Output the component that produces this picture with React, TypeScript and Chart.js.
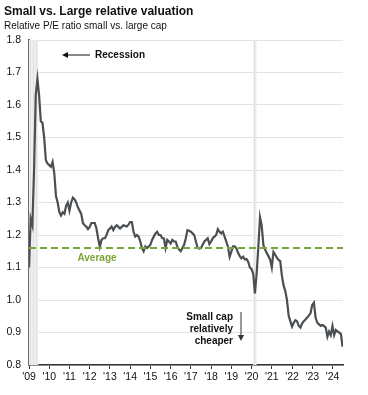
import React, { useEffect, useRef } from "react";
import { Chart, registerables } from "chart.js";

Chart.register(...registerables);

// Monthly relative P/E (small vs. large cap), starting January 2009
const startYear = 2009;
const relativePE = [
  1.10, 1.25, 1.23, 1.40, 1.63, 1.68, 1.63, 1.55, 1.545, 1.50, 1.43, 1.42,
  1.415, 1.41, 1.425, 1.39, 1.32, 1.30, 1.27, 1.26, 1.27, 1.265, 1.29, 1.30,
  1.275, 1.30, 1.315, 1.31, 1.30, 1.285, 1.275, 1.265, 1.236, 1.23, 1.226, 1.218,
  1.225, 1.237, 1.237, 1.237, 1.22, 1.19, 1.164, 1.185, 1.19, 1.19, 1.20, 1.215,
  1.22, 1.226, 1.215, 1.225, 1.23, 1.225, 1.22, 1.225, 1.23, 1.228, 1.226, 1.232,
  1.24, 1.24, 1.21, 1.195, 1.20, 1.195, 1.18, 1.16, 1.15, 1.165, 1.16, 1.164,
  1.17, 1.185, 1.195, 1.205, 1.21, 1.20, 1.20, 1.19, 1.19, 1.16, 1.185, 1.18,
  1.174, 1.185, 1.18, 1.18, 1.164, 1.155, 1.15, 1.16, 1.17, 1.19, 1.215, 1.213,
  1.21, 1.205, 1.20, 1.18, 1.16, 1.158, 1.16, 1.17, 1.18, 1.185, 1.19, 1.172,
  1.18, 1.19, 1.195, 1.20, 1.218, 1.21, 1.205, 1.21, 1.195, 1.18, 1.164, 1.133,
  1.149, 1.165, 1.165, 1.159, 1.145, 1.135, 1.128, 1.133, 1.125, 1.126, 1.118, 1.10,
  1.095, 1.08, 1.02, 1.08, 1.16, 1.255, 1.23, 1.17, 1.155, 1.145, 1.135, 1.125,
  1.10, 1.148, 1.14, 1.13, 1.123, 1.12, 1.075, 1.045, 1.028, 1.00, 0.952, 0.935,
  0.918, 0.93, 0.938, 0.935, 0.92, 0.915, 0.928, 0.935, 0.94, 0.946, 0.952, 0.96,
  0.985, 0.992, 0.945, 0.93, 0.925, 0.92, 0.923, 0.92, 0.915, 0.887, 0.903, 0.892,
  0.92, 0.892, 0.908, 0.903, 0.90, 0.895, 0.856,
];

const averageValue = 1.16;
const tickYears = [2009, 2010, 2011, 2012, 2013, 2014, 2015, 2016, 2017, 2018, 2019, 2020, 2021, 2022, 2023, 2024];
const xMin = 2009;
const xMax = 2024.52;
const recessionStarts = [2007.92, 2020.08];
const recessionEnds = [2009.46, 2020.25];

const FONT = "'Liberation Sans', Arial, Helvetica, sans-serif";

const overlayPlugin = {
  id: "overlay",
  beforeDatasetsDraw(chart: any) {
    const { ctx, chartArea, scales } = chart;
    const xs = scales.x;
    ctx.save();
    for (let i = 0; i < recessionStarts.length; i++) {
      const x0 = Math.max(chartArea.left, xs.getPixelForValue(recessionStarts[i]));
      const x1 = Math.min(chartArea.right, xs.getPixelForValue(recessionEnds[i]));
      ctx.fillStyle = "#efefef";
      ctx.fillRect(x0, chartArea.top, x1 - x0, chartArea.bottom - chartArea.top);
      ctx.strokeStyle = "#e0e0e0";
      ctx.lineWidth = 1;
      for (let x = x0 + 1.5; x < x1; x += 3) {
        ctx.beginPath();
        ctx.moveTo(x, chartArea.top);
        ctx.lineTo(x, chartArea.bottom);
        ctx.stroke();
      }
    }
    ctx.restore();
  },
  afterDraw(chart: any) {
    const { ctx } = chart;
    ctx.save();
    // Title & subtitle
    ctx.fillStyle = "#111";
    ctx.textBaseline = "middle";
    ctx.textAlign = "left";
    ctx.font = `bold 12px ${FONT}`;
    ctx.fillText("Small vs. Large relative valuation", 4, 12);
    ctx.font = `10px ${FONT}`;
    ctx.fillText("Relative P/E ratio small vs. large cap", 4, 26);

    // Recession annotation
    ctx.font = `bold 10px ${FONT}`;
    ctx.fillText("Recession", 95, 55);
    ctx.strokeStyle = "#111";
    ctx.fillStyle = "#111";
    ctx.lineWidth = 1;
    ctx.beginPath();
    ctx.moveTo(90, 55);
    ctx.lineTo(66, 55);
    ctx.stroke();
    ctx.beginPath();
    ctx.moveTo(62, 55);
    ctx.lineTo(68, 52);
    ctx.lineTo(68, 58);
    ctx.closePath();
    ctx.fill();

    // Average label
    ctx.fillStyle = "#7aa53a";
    ctx.textAlign = "center";
    ctx.fillText("Average", 97, 258);

    // Small cap relatively cheaper
    ctx.fillStyle = "#111";
    ctx.textAlign = "right";
    ctx.fillText("Small cap", 233, 317);
    ctx.fillText("relatively", 233, 329);
    ctx.fillText("cheaper", 233, 341);
    ctx.strokeStyle = "#333";
    ctx.fillStyle = "#333";
    ctx.beginPath();
    ctx.moveTo(241, 312);
    ctx.lineTo(241, 336);
    ctx.stroke();
    ctx.beginPath();
    ctx.moveTo(241, 341);
    ctx.lineTo(238, 335);
    ctx.lineTo(244, 335);
    ctx.closePath();
    ctx.fill();
    ctx.restore();
  },
};

export default function App() {
  const canvasRef = useRef<HTMLCanvasElement | null>(null);

  useEffect(() => {
    const canvas = canvasRef.current;
    if (!canvas) return;
    Chart.defaults.font.family = FONT;
    const lineData = relativePE.map((v, i) => ({ x: startYear + i / 12, y: v }));
    const avgData = [
      { x: xMin, y: averageValue },
      { x: xMax, y: averageValue },
    ];
    const chart = new Chart(canvas, {
      type: "line",
      data: {
        datasets: [
          {
            label: "Average",
            data: avgData,
            borderColor: "#7aa53a",
            borderWidth: 2.2,
            borderDash: [7, 4],
            pointRadius: 0,
            order: 0,
          },
          {
            label: "Relative P/E",
            data: lineData,
            borderColor: "#4a4f53",
            borderWidth: 2.2,
            pointRadius: 0,
            tension: 0,
            order: 1,
          },
        ],
      },
      options: {
        animation: false,
        responsive: false,
        maintainAspectRatio: false,
        layout: { padding: { top: 40, right: 25, left: 0, bottom: 0 } },
        plugins: {
          legend: { display: false },
          tooltip: { enabled: false },
          title: { display: false },
        },
        scales: {
          x: {
            type: "linear",
            min: xMin,
            max: xMax,
            afterBuildTicks: (s: any) => {
              s.ticks = tickYears.map((v) => ({ value: v }));
            },
            afterFit: (s: any) => {
              s.height = 30;
            },
            grid: {
              drawOnChartArea: false,
              drawTicks: true,
              tickLength: 4,
              tickColor: "#333",
              color: "#333",
            },
            border: { display: true, color: "#333", width: 1.5 },
            ticks: {
              autoSkip: false,
              maxRotation: 0,
              padding: 2,
              color: "#111",
              font: { size: 10.5, family: FONT },
              callback: (v: any) => "'" + String(v).slice(2),
            },
          },
          y: {
            min: 0.8,
            max: 1.8,
            afterFit: (s: any) => {
              s.width = 29;
            },
            grid: { color: "#e3e3e3", lineWidth: 1, drawTicks: false },
            border: { display: true, color: "#6a6a6a", width: 2 },
            ticks: {
              stepSize: 0.1,
              padding: 8,
              color: "#111",
              font: { size: 10.5, family: FONT },
              callback: (v: any) => Number(v).toFixed(1),
            },
          },
        },
      },
      plugins: [overlayPlugin],
    });
    return () => chart.destroy();
  }, []);

  return (
    <div style={{ position: "absolute", left: 0, top: 0, width: 368, height: 395, background: "#fff" }}>
      <canvas ref={canvasRef} width={368} height={395} style={{ width: 368, height: 395, display: "block" }} />
    </div>
  );
}
